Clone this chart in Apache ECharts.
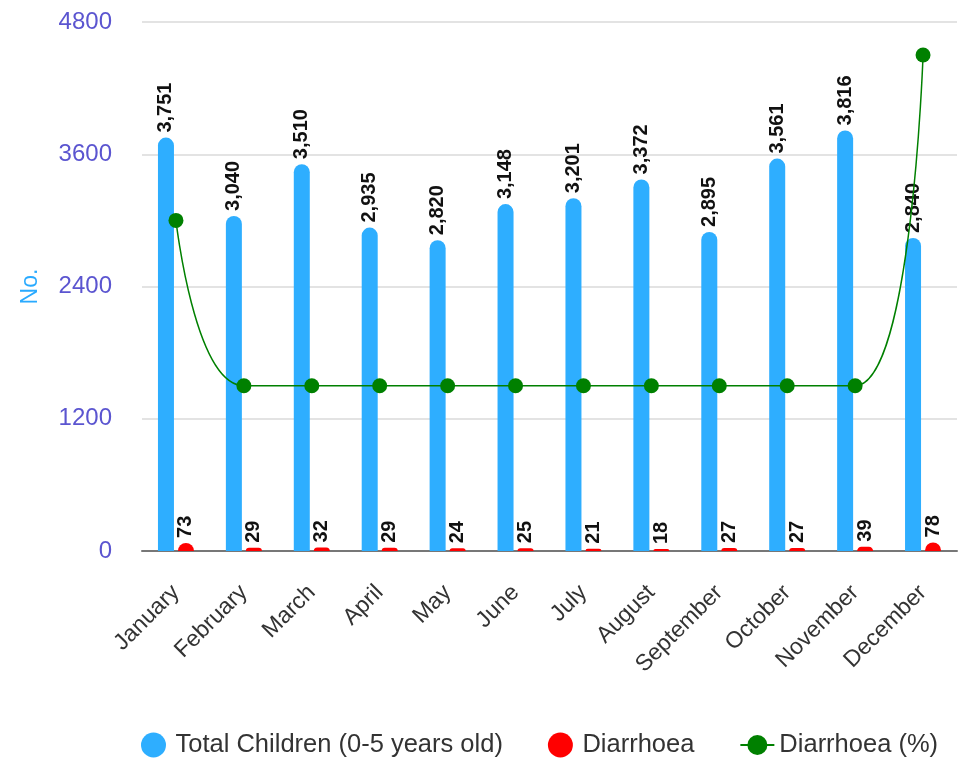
<!DOCTYPE html>
<html>
<head>
<meta charset="utf-8">
<script src="https://cdn.jsdelivr.net/npm/echarts@6/dist/echarts.min.js"></script>
<style>html,body{margin:0;padding:0;background:#fff;}#c{width:979px;height:763px;}</style>
</head>
<body>
<div id="c"></div>
<script>
const categories = ['January','February','March','April','May','June','July','August','September','October','November','December'];
const totalChildren = [3751,3040,3510,2935,2820,3148,3201,3372,2895,3561,3816,2840];
const diarrhoea = [73,29,32,29,24,25,21,18,27,27,39,78];
const diarrhoeaPct = [2,1,1,1,1,1,1,1,1,1,1,3];
const yTicks = [0,1200,2400,3600,4800];

const chart = echarts.init(document.getElementById('c'));
const labelStyle = {
  show: true, position: 'top', rotate: 90, align: 'left', verticalAlign: 'middle',
  distance: 5, color: '#111', fontWeight: 'bold', fontSize: 20,
  fontFamily: 'Liberation Sans, Arial, sans-serif',
  formatter: p => p.value.toLocaleString('en-US')
};
chart.setOption({
  animation: false,
  textStyle: {fontFamily: 'Liberation Sans, Arial, sans-serif'},
  grid: {left: 142, right: 22, top: 22, bottom: 212},
  legend: {
    bottom: 0, left: 136, itemGap: 45, itemWidth: 34, itemHeight: 25,
    textStyle: {fontSize: 25.5, color: '#333'},
    data: [
      {name: 'Total Children (0-5 years old)', icon: 'circle'},
      {name: 'Diarrhoea', icon: 'circle'},
      {name: 'Diarrhoea (%)'}
    ]
  },
  xAxis: {
    type: 'category', data: categories,
    axisLine: {lineStyle: {color: '#777', width: 2}},
    axisTick: {show: false},
    axisLabel: {rotate: 45, fontSize: 23, color: '#333', margin: 38, interval: 0}
  },
  yAxis: [{
    type: 'value', min: yTicks[0], max: yTicks[yTicks.length-1], interval: 1200,
    name: 'No.', nameLocation: 'middle', nameGap: 100, nameRotate: 90,
    nameTextStyle: {color: '#29aaff', fontSize: 23},
    axisLabel: {fontSize: 24, color: '#5b55d0', margin: 30, formatter: v => String(v)},
    axisLine: {show: false}, axisTick: {show: false},
    splitLine: {lineStyle: {color: '#e3e3e3', width: 2}}
  }, {
    type: 'value', min: 0, max: 3.2, show: false, splitLine: {show: false}
  }],
  series: [{
    name: 'Total Children (0-5 years old)', type: 'bar', data: totalChildren,
    barWidth: 16, barGap: '25%',
    itemStyle: {color: '#2eaeff', borderRadius: [8,8,0,0]},
    label: labelStyle
  }, {
    name: 'Diarrhoea', type: 'bar', data: diarrhoea,
    barWidth: 16,
    itemStyle: {color: '#ff0000', borderRadius: [8,8,0,0]},
    label: labelStyle
  }, {
    name: 'Diarrhoea (%)', type: 'line', yAxisIndex: 1, data: diarrhoeaPct,
    smooth: true, symbol: 'circle', symbolSize: 15,
    lineStyle: {color: '#008000', width: 1.5},
    itemStyle: {color: '#008000'}
  }]
});
</script>
</body>
</html>
